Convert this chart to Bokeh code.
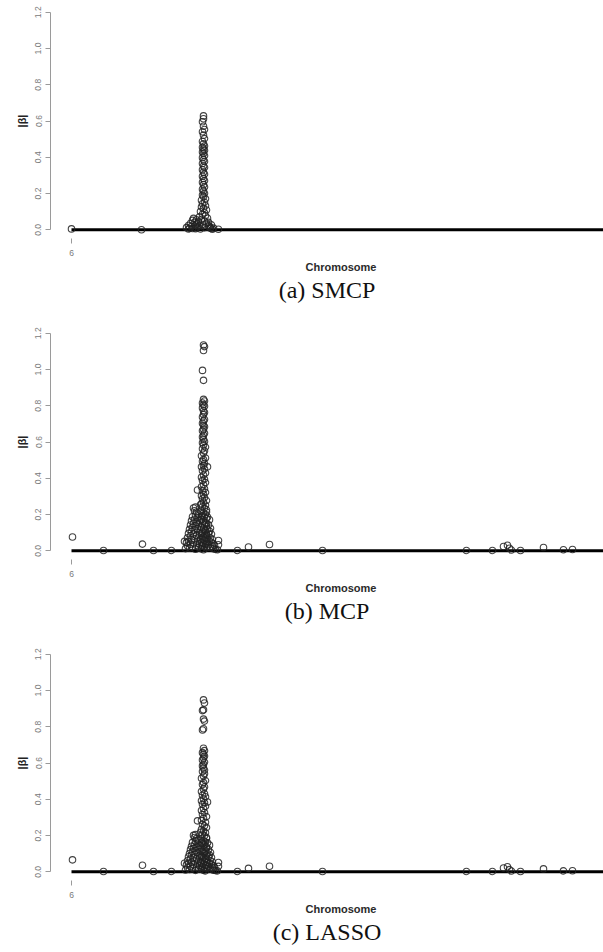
from bokeh.plotting import figure
from bokeh.models import Range1d, FixedTicker, Title, PrintfTickFormatter
from bokeh.layouts import column
from bokeh.embed import file_html
from bokeh.resources import INLINE

# ---------------- data ----------------
beta_ticks = [0.0, 0.2, 0.4, 0.6, 0.8, 1.0, 1.2]
chrom_ticks = [0]
chrom_labels = ["6"]
chrom_extent = [0, 560]          # span of the SNPs along the genome (position units)
captions = ["(a) SMCP", "(b) MCP", "(c) LASSO"]

# ---- (a) SMCP ----
smcp_pos = [
    0, 70, 147,
    115, 117, 118, 119, 120, 121, 122, 123, 124, 125,
    126, 127, 128, 117, 121, 125,
    132, 132, 131, 132, 133, 131, 132, 133, 131, 132,
    133, 131, 132, 133, 131, 132, 133, 131, 132, 133,
    131, 132, 133, 131, 132, 133, 131, 132, 133, 131,
    132, 133, 131, 132, 133, 131, 132, 134, 130, 133,
    131, 134, 130, 132, 135, 129, 133, 131, 134, 128,
    136, 130, 133, 127, 135, 131, 137, 126, 133, 139,
    124, 129, 141,
    137, 138, 140, 142, 139,
]
smcp_beta = [
    0.005, 0.000, 0.003,
    0.012, 0.024, 0.008, 0.035, 0.019, 0.052, 0.063, 0.041, 0.028, 0.055,
    0.033, 0.047, 0.021, 0.004, 0.007, 0.010,
    0.628, 0.612, 0.596, 0.571, 0.553, 0.541, 0.522, 0.503, 0.487, 0.474,
    0.462, 0.455, 0.447, 0.438, 0.429, 0.421, 0.409, 0.398, 0.386, 0.377,
    0.366, 0.352, 0.344, 0.331, 0.318, 0.307, 0.295, 0.283, 0.271, 0.262,
    0.249, 0.236, 0.224, 0.213, 0.201, 0.192, 0.183, 0.171, 0.163, 0.152,
    0.144, 0.133, 0.126, 0.118, 0.109, 0.101, 0.094, 0.086, 0.078, 0.071,
    0.064, 0.057, 0.049, 0.042, 0.036, 0.029, 0.022, 0.017, 0.012, 0.008,
    0.006, 0.004, 0.003,
    0.041, 0.018, 0.027, 0.009, 0.012,
]

# ---- (b) MCP ----
mcp_peak_pos = [
    132, 133, 132, 131, 132, 132, 133, 131, 132, 133,
    131, 132, 133, 132, 131, 133, 132, 131, 132, 133,
    132, 131, 133, 132, 131, 132, 133, 131, 132, 134,
    131, 133, 132, 130, 134, 132, 131, 133, 132, 130,
    133, 131, 134, 132, 130, 133, 131, 134, 132, 130,
    133, 131, 134, 132, 130, 133, 131, 135, 132, 130,
    134, 131, 133, 135, 130, 132, 134, 131, 133, 135,
    130, 132, 134, 131, 133, 135, 130, 132, 134, 131,
    133, 135, 130, 132, 134, 131, 133, 135, 130, 132,
    134, 131, 133, 135, 130, 132,
]
mcp_peak_beta = [
    1.135, 1.126, 1.105, 0.995, 0.940, 0.835, 0.826, 0.815, 0.806, 0.797,
    0.788, 0.772, 0.763, 0.751, 0.738, 0.724, 0.716, 0.703, 0.692, 0.684,
    0.671, 0.662, 0.648, 0.639, 0.627, 0.615, 0.603, 0.596, 0.584, 0.572,
    0.563, 0.551, 0.539, 0.524, 0.512, 0.503, 0.494, 0.482, 0.471, 0.463,
    0.452, 0.441, 0.429, 0.418, 0.406, 0.395, 0.387, 0.376, 0.364, 0.353,
    0.342, 0.331, 0.322, 0.311, 0.303, 0.294, 0.286, 0.277, 0.268, 0.259,
    0.251, 0.243, 0.235, 0.226, 0.218, 0.209, 0.201, 0.193, 0.186, 0.178,
    0.171, 0.163, 0.156, 0.148, 0.141, 0.134, 0.127, 0.119, 0.112, 0.105,
    0.098, 0.091, 0.084, 0.077, 0.071, 0.064, 0.058, 0.051, 0.045, 0.039,
    0.033, 0.027, 0.022, 0.016, 0.011, 0.006,
]
mcp_left_pos = [
    114, 115, 116, 116, 117, 117, 118, 118, 119, 119,
    119, 120, 120, 120, 121, 121, 121, 122, 122, 122,
    122, 123, 123, 123, 123, 124, 124, 124, 124, 125,
    125, 125, 125, 126, 126, 126, 127, 127, 127, 127,
    128, 128, 128, 129, 129, 129, 126, 130, 130, 130,
]
mcp_left_beta = [
    0.012, 0.045, 0.028, 0.071, 0.096, 0.052, 0.118, 0.015, 0.142, 0.083,
    0.036, 0.165, 0.107, 0.061, 0.188, 0.129, 0.022, 0.236, 0.151, 0.092,
    0.044, 0.221, 0.174, 0.113, 0.067, 0.241, 0.197, 0.136, 0.009, 0.214,
    0.158, 0.085, 0.031, 0.183, 0.122, 0.054, 0.203, 0.147, 0.076, 0.019,
    0.169, 0.102, 0.038, 0.254, 0.131, 0.063, 0.335, 0.189, 0.094, 0.026,
]
mcp_right_pos = [
    135, 135, 135, 135, 136, 136, 136, 136, 137, 137,
    137, 138, 138, 138, 139, 139, 139, 140, 140, 141,
    141, 142, 142, 143, 144,
]
mcp_right_beta = [
    0.214, 0.152, 0.087, 0.041, 0.463, 0.186, 0.118, 0.062, 0.143, 0.097,
    0.034, 0.171, 0.108, 0.052, 0.124, 0.071, 0.018, 0.092, 0.047, 0.063,
    0.024, 0.038, 0.011, 0.029, 0.008,
]
mcp_other_pos = [
    1, 71, 32, 82, 100, 113, 147, 147, 146, 166,
    177, 198, 251, 395, 421, 432, 436, 438, 440, 449,
    472, 492, 501,
]
mcp_other_beta = [
    0.076, 0.037, 0.002, 0.002, 0.002, 0.052, 0.057, 0.033, 0.006, 0.002,
    0.021, 0.035, 0.002, 0.002, 0.002, 0.024, 0.031, 0.014, 0.004, 0.002,
    0.018, 0.006, 0.007,
]

# ---- (c) LASSO ----
lasso_peak_pos = [
    132, 133, 132, 131, 132, 133, 132, 131, 132, 133,
    131, 132, 133, 132, 131, 133, 132, 131, 132, 133,
    131, 133, 132, 130, 134, 132, 131, 133, 132, 130,
    133, 131, 134, 132, 130, 133, 131, 134, 132, 130,
    133, 131, 135, 132, 130, 134, 131, 133, 135, 130,
    132, 134, 131, 133, 135, 130, 132, 134, 131, 133,
    135, 130, 132, 134, 131, 133, 135, 130, 132, 134,
    131, 133, 135, 130, 132, 134, 131, 133, 135, 130,
    132, 134,
]
lasso_peak_beta = [
    0.948, 0.931, 0.893, 0.889, 0.842, 0.831, 0.789, 0.782, 0.681, 0.668,
    0.657, 0.649, 0.638, 0.627, 0.616, 0.605, 0.593, 0.584, 0.572, 0.561,
    0.553, 0.541, 0.528, 0.516, 0.503, 0.492, 0.481, 0.468, 0.457, 0.443,
    0.431, 0.422, 0.414, 0.403, 0.392, 0.381, 0.372, 0.361, 0.349, 0.338,
    0.327, 0.316, 0.304, 0.295, 0.284, 0.273, 0.262, 0.253, 0.244, 0.234,
    0.225, 0.216, 0.207, 0.198, 0.189, 0.181, 0.172, 0.164, 0.155, 0.147,
    0.139, 0.131, 0.123, 0.115, 0.108, 0.101, 0.093, 0.086, 0.079, 0.072,
    0.066, 0.059, 0.053, 0.047, 0.041, 0.035, 0.029, 0.024, 0.019, 0.014,
    0.009, 0.005,
]
lasso_left_pos = [
    114, 115, 116, 116, 117, 117, 118, 118, 119, 119,
    119, 120, 120, 120, 121, 121, 121, 122, 122, 122,
    122, 123, 123, 123, 123, 124, 124, 124, 124, 125,
    125, 125, 125, 126, 126, 126, 127, 127, 127, 127,
    128, 128, 128, 129, 129, 129, 126, 130, 130, 130,
]
lasso_left_beta = [
    0.010, 0.038, 0.024, 0.061, 0.083, 0.046, 0.101, 0.013, 0.122, 0.072,
    0.031, 0.141, 0.092, 0.053, 0.162, 0.111, 0.019, 0.201, 0.130, 0.079,
    0.038, 0.189, 0.149, 0.097, 0.058, 0.205, 0.169, 0.117, 0.008, 0.183,
    0.136, 0.073, 0.027, 0.157, 0.105, 0.047, 0.174, 0.126, 0.065, 0.016,
    0.145, 0.088, 0.033, 0.218, 0.113, 0.054, 0.281, 0.162, 0.081, 0.022,
]
lasso_right_pos = [
    135, 135, 135, 135, 136, 136, 136, 136, 137, 137,
    137, 138, 138, 138, 139, 139, 139, 140, 140, 141,
    141, 142, 142, 143, 144,
]
lasso_right_beta = [
    0.184, 0.131, 0.075, 0.035, 0.385, 0.160, 0.101, 0.053, 0.123, 0.083,
    0.029, 0.147, 0.093, 0.045, 0.107, 0.061, 0.015, 0.079, 0.040, 0.054,
    0.021, 0.033, 0.009, 0.025, 0.007,
]
lasso_other_pos = [
    1, 71, 32, 82, 100, 113, 147, 147, 146, 166,
    177, 198, 251, 395, 421, 432, 436, 438, 440, 449,
    472, 492, 501,
]
lasso_other_beta = [
    0.066, 0.036, 0.002, 0.002, 0.002, 0.047, 0.051, 0.030, 0.005, 0.002,
    0.019, 0.031, 0.002, 0.002, 0.002, 0.021, 0.028, 0.012, 0.004, 0.002,
    0.016, 0.005, 0.006,
]

# ---------------- drawing ----------------
AXIS_GRAY = "#9a9a9a"
LABEL_GRAY = "#7a7a7a"


def make_panel(pos, beta, caption, height, bottom):
    p = figure(width=603, height=height,
               x_range=Range1d(-21, 532), y_range=Range1d(-0.048, 1.248),
               output_backend="svg", toolbar_location=None,
               min_border_left=50, min_border_right=0,
               min_border_top=3, min_border_bottom=bottom)
    p.grid.visible = False
    p.outline_line_color = None
    p.background_fill_color = "white"
    p.border_fill_color = "white"

    p.line(chrom_extent, [0, 0], line_color="black", line_width=3)
    p.scatter(pos, beta, marker="circle", size=6.5, fill_color=None,
              line_color="#222222", line_alpha=0.85, line_width=1.1)

    ya = p.yaxis[0]
    ya.ticker = FixedTicker(ticks=beta_ticks)
    ya.formatter = PrintfTickFormatter(format="%.1f")
    ya.bounds = (0, 1.2)
    ya.minor_tick_line_color = None
    ya.major_tick_in = 0
    ya.major_tick_out = 5
    ya.axis_line_color = AXIS_GRAY
    ya.major_tick_line_color = AXIS_GRAY
    ya.major_label_orientation = "vertical"
    ya.major_label_text_color = LABEL_GRAY
    ya.major_label_text_font = "Liberation Sans"
    ya.major_label_text_font_size = "8.5px"
    ya.major_label_standoff = 4
    ya.axis_label = "|β|"
    ya.axis_label_text_font = "Liberation Sans"
    ya.axis_label_text_font_style = "bold"
    ya.axis_label_text_font_size = "11px"
    ya.axis_label_text_color = "#222222"
    ya.axis_label_standoff = 5

    xa = p.xaxis[0]
    xa.ticker = FixedTicker(ticks=chrom_ticks)
    xa.major_label_overrides = {t: s for t, s in zip(chrom_ticks, chrom_labels)}
    xa.axis_line_color = None
    xa.minor_tick_line_color = None
    xa.major_tick_in = 0
    xa.major_tick_out = 5
    xa.major_tick_line_color = AXIS_GRAY
    xa.major_label_text_color = LABEL_GRAY
    xa.major_label_text_font = "Liberation Sans"
    xa.major_label_text_font_size = "8.5px"
    xa.major_label_standoff = 6

    p.add_layout(Title(text="Chromosome", align="left", offset=255,
                       standoff=0, text_font="Liberation Sans",
                       text_font_style="bold", text_font_size="11px",
                       text_color="#2a2a2a"), "below")
    p.add_layout(Title(text=caption, align="center", offset=0,
                       standoff=4, text_font="Liberation Serif",
                       text_font_style="normal", text_font_size="24px",
                       text_color="#111111"), "below")
    return p


pa = make_panel(smcp_pos, smcp_beta, captions[0], 321, 83)
pb = make_panel(mcp_peak_pos + mcp_left_pos + mcp_right_pos + mcp_other_pos,
                mcp_peak_beta + mcp_left_beta + mcp_right_beta + mcp_other_beta,
                captions[1], 321, 83)
pc = make_panel(lasso_peak_pos + lasso_left_pos + lasso_right_pos + lasso_other_pos,
                lasso_peak_beta + lasso_left_beta + lasso_right_beta + lasso_other_beta,
                captions[2], 310, 72)

layout = column(pa, pb, pc, spacing=0)
open("out.html", "w").write(file_html(layout, INLINE))
